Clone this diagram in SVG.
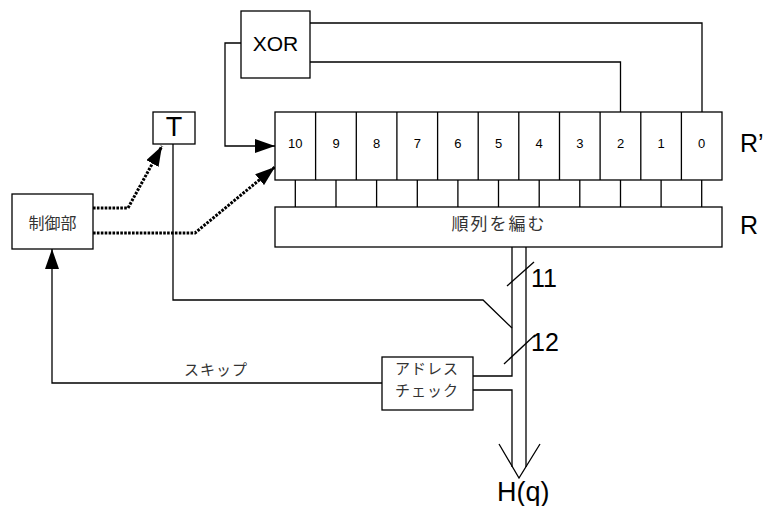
<svg xmlns="http://www.w3.org/2000/svg" width="766" height="506" viewBox="0 0 766 506">
<style>
.box{fill:#fff;stroke:#000;stroke-width:1.3}
.ln{fill:none;stroke:#000;stroke-width:1.3}
.dot{fill:none;stroke:#000;stroke-width:3;stroke-dasharray:2.6 1.3}
.lat{font-family:"Liberation Sans",Arial,sans-serif;fill:#000}
.cjk{font-family:"Liberation Serif","Noto Sans CJK JP",serif;fill:#333}
.num{font-family:"Liberation Sans",Arial,sans-serif;font-size:13px;text-anchor:middle;fill:#000}
</style>
<defs>
<marker id="arr" markerUnits="userSpaceOnUse" markerWidth="20" markerHeight="14" refX="20" refY="7" orient="auto">
<path d="M0,0 L20,7 L0,14 z" fill="#000"/>
</marker>
</defs>
<rect width="766" height="506" fill="#fff"/>

<g id="connectors">
<!-- XOR feedback into register -->
<path class="ln" d="M241,43 H225 V146 H275" marker-end="url(#arr)"/>
<path class="ln" d="M310,23 H702 V112"/>
<path class="ln" d="M310,62 H620.5 V112"/>
<!-- control dotted -->
<path class="dot" d="M93,208 H128 L162,146" marker-end="url(#arr)"/>
<path class="dot" d="M93,233 H195 L275,167" marker-end="url(#arr)"/>
<!-- T line to bus -->
<path class="ln" d="M173,144 V300 H483 L512,328"/>
<!-- skip to control -->
<path class="ln" d="M382,383 H52 V249" marker-end="url(#arr)"/>
<!-- bus -->
<path class="ln" d="M512,247 V376 H473"/>
<path class="ln" d="M473,390 H512 V467"/>
<path class="ln" d="M526,247 V467"/>
<path class="ln" d="M499,444 L519,478 L540,444"/>
<!-- width slashes -->
<path class="ln" d="M507,286 L534,262"/>
<path class="ln" d="M504,364 L535,335"/>
<!-- register to permute links -->
<path class="ln" d="M295.3,180 V207 M336,180 V207 M376.6,180 V207 M417.3,180 V207 M457.9,180 V207 M498.5,180 V207 M539.2,180 V207 M579.8,180 V207 M620.5,180 V207 M661.1,180 V207 M701.7,180 V207"/>
</g>

<g id="xor">
<rect class="box" x="241" y="11" width="69" height="67"/>
<text class="lat" x="275.5" y="51" font-size="21" text-anchor="middle">XOR</text>
</g>

<g id="t">
<rect class="box" x="153" y="112" width="42" height="32"/>
<text class="lat" x="174" y="136" font-size="27" text-anchor="middle">T</text>
</g>

<g id="control">
<rect class="box" x="12" y="194" width="81" height="55"/>
<text class="cjk" x="52.5" y="229" font-size="16" text-anchor="middle">制御部</text>
</g>

<g id="register">
<rect class="box" x="275" y="112" width="447" height="68"/>
<path class="ln" d="M315.6,112 V180 M356.3,112 V180 M396.9,112 V180 M437.6,112 V180 M478.2,112 V180 M518.8,112 V180 M559.5,112 V180 M600.1,112 V180 M640.8,112 V180 M681.4,112 V180"/>
<text class="num" x="295.3" y="148">10</text>
<text class="num" x="336" y="148">9</text>
<text class="num" x="376.6" y="148">8</text>
<text class="num" x="417.3" y="148">7</text>
<text class="num" x="457.9" y="148">6</text>
<text class="num" x="498.5" y="148">5</text>
<text class="num" x="539.2" y="148">4</text>
<text class="num" x="579.8" y="148">3</text>
<text class="num" x="620.5" y="148">2</text>
<text class="num" x="661.1" y="148">1</text>
<text class="num" x="701.7" y="148">0</text>
<text class="lat" x="740" y="152" font-size="25">R’</text>
</g>

<g id="permute">
<rect class="box" x="275" y="207" width="447" height="40"/>
<text class="cjk" x="499" y="230" font-size="17" letter-spacing="2" text-anchor="middle">順列を編む</text>
<text class="lat" x="740" y="234" font-size="25">R</text>
</g>

<g id="addrcheck">
<rect class="box" x="382" y="357" width="91" height="53"/>
<text class="cjk" x="395" y="374" font-size="15" letter-spacing="1">アドレス</text>
<text class="cjk" x="395" y="396" font-size="15" letter-spacing="1">チェック</text>
</g>

<g id="labels">
<text class="cjk" x="184" y="375" font-size="15" letter-spacing="1">スキップ</text>
<text class="lat" x="531" y="287" font-size="25">11</text>
<text class="lat" x="531" y="351" font-size="25">12</text>
<text class="lat" x="497" y="501" font-size="27">H(q)</text>
</g>
</svg>
